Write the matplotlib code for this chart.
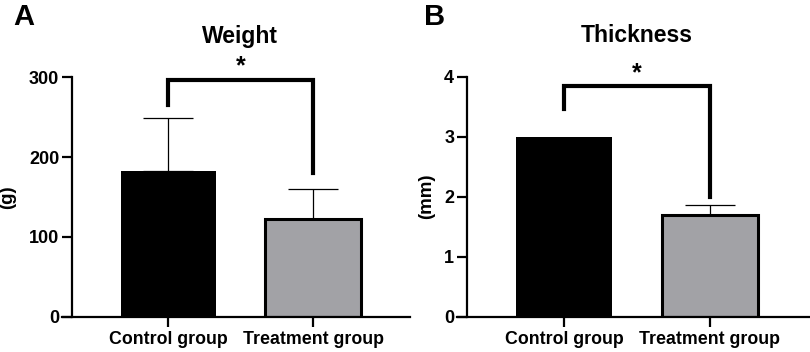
import matplotlib
matplotlib.use("Agg")
import matplotlib.pyplot as plt

plt.rcParams['font.family'] = ['Liberation Sans', 'DejaVu Sans']
plt.rcParams['font.weight'] = 'bold'

categories = ["Control group", "Treatment group"]
weight_mean = [182, 122]
weight_err = [67, 38]
thick_mean = [2.99, 1.69]
thick_err = [0.0, 0.18]
bar_colors = ["#000000", "#a2a2a6"]

W, H = 810, 352
fig = plt.figure(figsize=(W / 100, H / 100), dpi=100)


def px_axes(left, right, bottom_px, top_px):
    return fig.add_axes([left / W, 1 - bottom_px / H, (right - left) / W, (bottom_px - top_px) / H])


def setup(ax, spine_frac, ylim, yticks):
    ax.set_ylim(*ylim)
    ax.set_yticks(yticks)
    ax.spines['top'].set_visible(False)
    ax.spines['right'].set_visible(False)
    ax.spines['left'].set_position(('axes', spine_frac))
    for s in ('left', 'bottom'):
        ax.spines[s].set_linewidth(1.6)
    ax.tick_params(axis='both', width=1.6, length=7)
    ax.tick_params(axis='y', labelsize=13, pad=2)
    ax.tick_params(axis='x', labelsize=12.8, pad=3)
    ax.set_xticks(range(len(categories)))
    ax.set_xticklabels(categories, fontweight='bold')
    for lab in ax.get_yticklabels():
        lab.set_fontweight('bold')


def bars(ax, means, errs):
    x = list(range(len(categories)))
    for i in x:
        edge_lw = 0 if i == 0 else 2.2
        ax.bar(i, means[i], width=0.66, color=bar_colors[i], edgecolor='black',
               linewidth=edge_lw, zorder=2)
        if errs[i] > 0:
            ax.errorbar(i, means[i], yerr=[[0], [errs[i]]], fmt='none', ecolor='black',
                        elinewidth=0.9, capsize=18, capthick=0.9, zorder=1)


def bracket(ax, y_top, y_left, y_right, star_y):
    ax.plot([0, 0, 1, 1], [y_left, y_top, y_top, y_right], color='black', lw=3.0,
            clip_on=False, solid_joinstyle='miter', zorder=3)
    ax.text(0.5, star_y, '*', ha='center', va='center', fontsize=18, fontweight='bold',
            clip_on=False)


# Panel A
axA = px_axes(62, 410, 316.7, 77.3)
axA.set_xlim(-0.735, 1.670)
setup(axA, (71.7 - 62) / 348, (0, 300), [0, 100, 200, 300])
bars(axA, weight_mean, weight_err)
bracket(axA, 297, 265, 180, 314)

# Panel B
axB = px_axes(456.7, 810, 316.7, 76.7)
axB.set_xlim(-0.735, 1.685)
setup(axB, (466.7 - 456.7) / 353.3, (0, 4), [0, 1, 2, 3, 4])
bars(axB, thick_mean, thick_err)
bracket(axB, 3.85, 3.46, 2.0, 4.05)

# Titles, labels
fig.text(240 / W, 1 - 37 / H, "Weight", ha='center', va='center', fontsize=16.5, fontweight='bold')
fig.text(637 / W, 1 - 36 / H, "Thickness", ha='center', va='center', fontsize=16.5, fontweight='bold')
fig.text(8 / W, 1 - 197 / H, "(g)", ha='center', va='center', rotation=90, fontsize=13.5, fontweight='bold')
fig.text(427 / W, 1 - 196 / H, "(mm)", ha='center', va='center', rotation=90, fontsize=13.5, fontweight='bold')
fig.text(24 / W, 1 - 17 / H, "A", ha='center', va='center', fontsize=21, fontweight='bold')
fig.text(435 / W, 1 - 17 / H, "B", ha='center', va='center', fontsize=21, fontweight='bold')

fig.savefig("out.png", dpi=100)
